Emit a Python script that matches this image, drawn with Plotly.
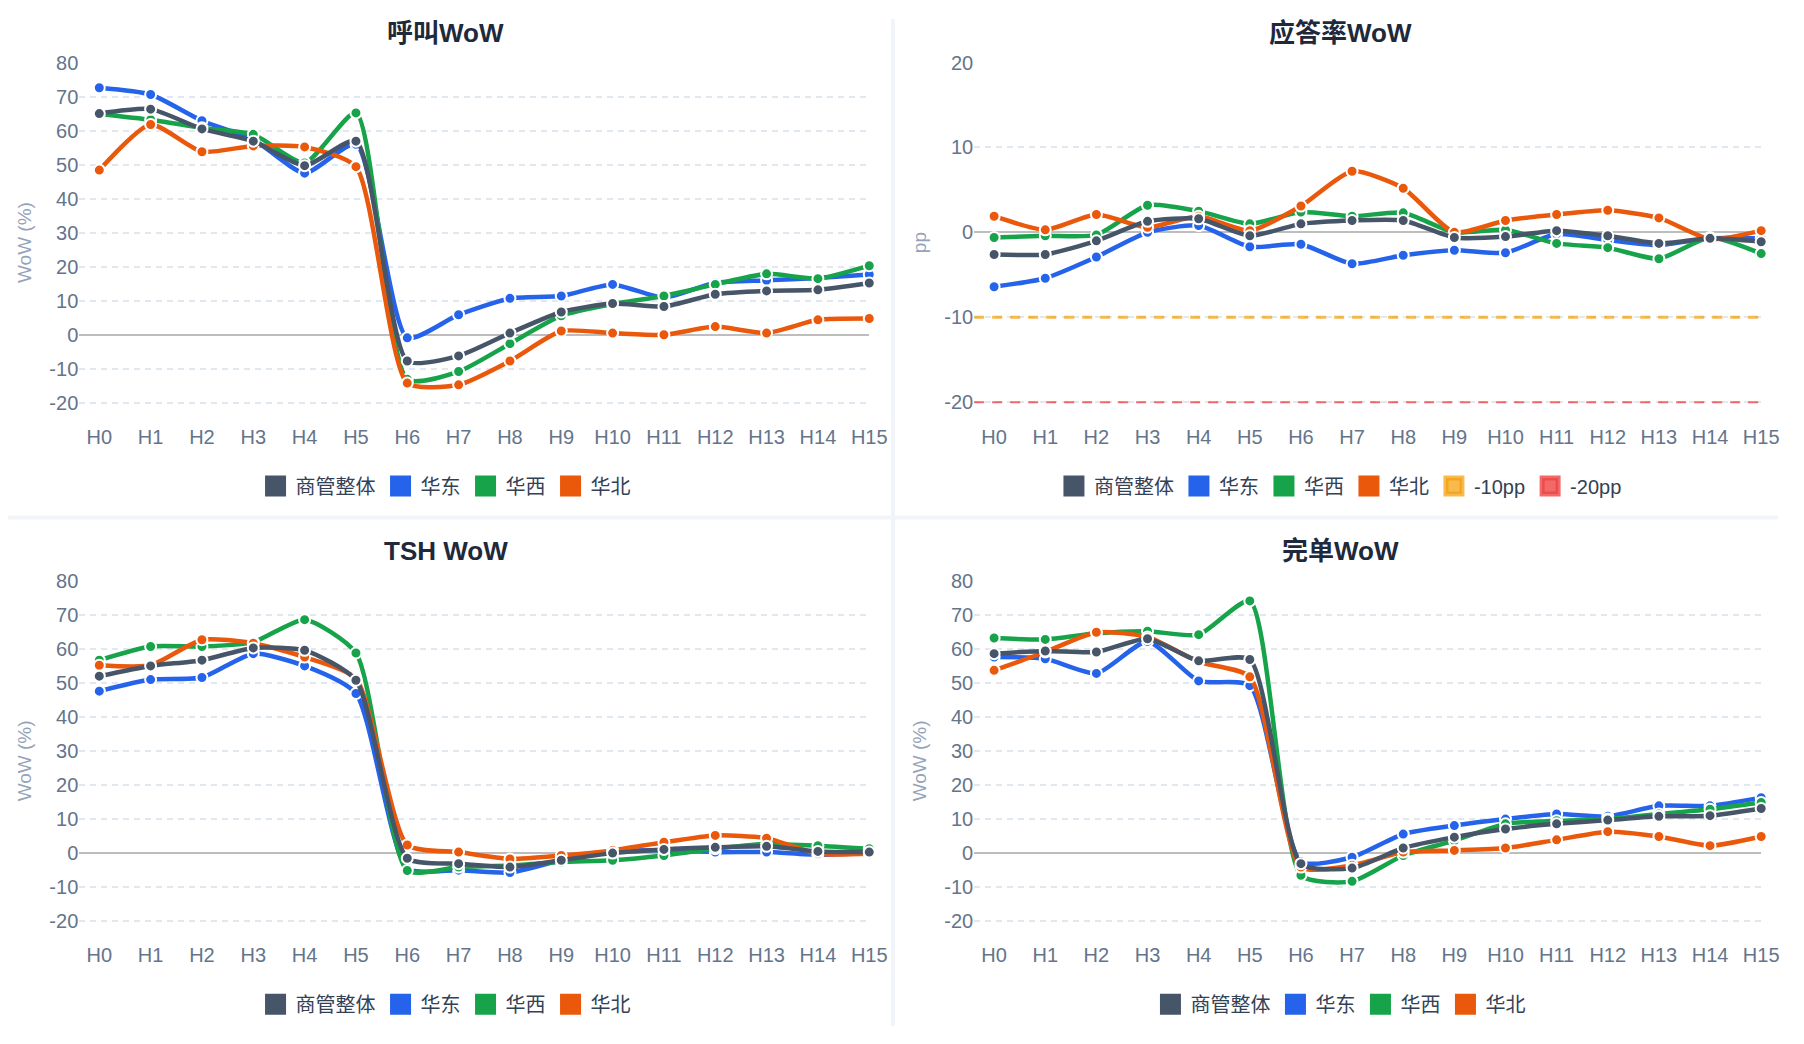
import plotly.graph_objects as go

# ---------------- data ----------------
hours = ["H0", "H1", "H2", "H3", "H4", "H5", "H6", "H7",
         "H8", "H9", "H10", "H11", "H12", "H13", "H14", "H15"]
series_names = ["商管整体", "华东", "华西", "华北"]
series_colors = ["#475569", "#2563eb", "#16a34a", "#ea580c"]

# 呼叫WoW (%)
call_total = [65.0, 66.3, 60.5, 56.9, 49.7, 56.9, -7.7, -6.2, 0.5, 6.7, 9.2, 8.3, 11.9, 12.9, 13.2, 15.2]
call_east = [72.6, 70.6, 62.9, 57.4, 47.5, 56.0, -0.9, 5.9, 10.7, 11.4, 14.8, 10.9, 15.3, 16.0, 16.7, 17.7]
call_west = [64.9, 63.2, 60.8, 58.9, 50.5, 65.2, -13.1, -10.8, -2.6, 5.6, 9.0, 11.4, 14.8, 17.9, 16.5, 20.3]
call_north = [48.4, 61.8, 53.8, 55.5, 55.2, 49.4, -14.2, -14.7, -7.7, 1.1, 0.5, 0.0, 2.4, 0.5, 4.4, 4.8]

# 应答率WoW (pp)
ans_total = [-2.6, -2.6, -1.0, 1.3, 1.6, -0.4, 1.0, 1.4, 1.4, -0.6, -0.5, 0.2, -0.4, -1.3, -0.7, -1.1]
ans_east = [-6.4, -5.4, -2.9, 0.0, 0.8, -1.7, -1.4, -3.7, -2.7, -2.1, -2.4, -0.2, -0.9, -1.5, -0.7, -0.7]
ans_west = [-0.6, -0.4, -0.3, 3.2, 2.5, 1.0, 2.4, 1.9, 2.3, 0.0, 0.3, -1.3, -1.8, -3.1, -0.6, -2.5]
ans_north = [1.9, 0.3, 2.1, 0.6, 1.9, 0.2, 3.1, 7.2, 5.2, 0.0, 1.4, 2.1, 2.6, 1.7, -0.8, 0.2]
ans_threshold_names = ["-10pp", "-20pp"]
ans_threshold_values = [-10, -20]
ans_threshold_colors = ["rgba(245,158,11,0.72)", "rgba(239,68,68,0.8)"]

# TSH WoW (%)
tsh_total = [52.0, 55.0, 56.7, 60.3, 59.6, 50.8, -1.5, -3.1, -4.1, -2.1, 0.0, 1.1, 1.7, 2.0, 0.5, 0.3]
tsh_east = [47.6, 51.0, 51.6, 58.6, 55.0, 46.9, -4.5, -5.0, -5.7, -2.1, 0.5, 0.8, 0.3, 0.3, -0.5, 0.0]
tsh_west = [56.7, 60.7, 60.7, 62.0, 68.6, 58.8, -5.1, -4.1, -3.6, -2.6, -2.1, -0.7, 1.3, 2.7, 2.2, 1.3]
tsh_north = [55.2, 55.2, 62.7, 61.7, 57.6, 51.3, 2.4, 0.3, -1.7, -0.7, 0.8, 3.2, 5.2, 4.4, -0.2, -0.2]

# 完单WoW (%)
done_total = [58.6, 59.4, 59.1, 63.0, 56.5, 56.9, -3.1, -4.4, 1.5, 4.7, 7.1, 8.6, 9.7, 10.8, 11.0, 13.1]
done_east = [57.6, 57.1, 52.8, 62.2, 50.6, 49.2, -2.5, -1.2, 5.6, 8.1, 10.0, 11.5, 10.8, 13.9, 13.9, 16.3]
done_west = [63.2, 62.8, 64.6, 65.2, 64.2, 74.1, -6.5, -8.3, -0.7, 3.7, 8.6, 9.5, 10.0, 11.5, 12.9, 14.9]
done_north = [53.7, 59.1, 64.9, 63.5, 56.2, 51.8, -4.1, -3.6, 0.3, 0.8, 1.5, 3.9, 6.3, 4.9, 2.2, 4.9]

pct_tickvals = [-20, -10, 0, 10, 20, 30, 40, 50, 60, 70, 80]
pct_ticktext = ["-20", "-10", "0", "10", "20", "30", "40", "50", "60", "70", "80"]
pp_tickvals = [-20, -10, 0, 10, 20]
pp_ticktext = ["-20", "-10", "0", "10", "20"]

panel_titles = ["呼叫WoW", "应答率WoW", "TSH WoW", "完单WoW"]
panel_ytitles = ["WoW (%)", "pp", "WoW (%)", "WoW (%)"]
panel_data = [
    [call_total, call_east, call_west, call_north],
    [ans_total, ans_east, ans_west, ans_north],
    [tsh_total, tsh_east, tsh_west, tsh_north],
    [done_total, done_east, done_west, done_north],
]
panel_ticks = [
    (pct_tickvals, pct_ticktext),
    (pp_tickvals, pp_ticktext),
    (pct_tickvals, pct_ticktext),
    (pct_tickvals, pct_ticktext),
]

# ---------------- layout geometry ----------------
PAGE_W, PAGE_H = 1804, 1044
OFF_X, OFF_Y = 8, 18          # where the plot div starts on the page
W, H = PAGE_W - 2 * OFF_X, PAGE_H - OFF_Y - 8
FONT = "Liberation Sans, Arial, Noto Sans CJK SC, sans-serif"

def px_x(v):
    return (v - OFF_X) / W

def px_y(v):
    return 1 - (v - OFF_Y) / H

# (plot left, plot right, plot top, plot bottom, card centre x, card top) in page px
panels = [
    (80, 878, 62, 426, 450, 0),
    (984, 1779, 62, 426, 1354, 0),
    (80, 878, 586, 950, 450, 524),
    (984, 1779, 586, 950, 1354, 524),
]
y_ranges = [[-25.8, 80], [-22.4, 20], [-25.8, 80], [-25.8, 80]]

fig = go.Figure()

draw_order = [1, 2, 3, 0]  # overall series drawn on top
for p in range(4):
    suffix = "" if p == 0 else str(p + 1)
    xa = "x" + suffix
    ya = "y" + suffix
    leg = "legend" + suffix
    for i in range(4):
        fig.add_trace(go.Scatter(
            x=[None], y=[None], mode="markers", name=series_names[i],
            marker=dict(symbol="square", size=16, color=series_colors[i],
                        line=dict(color=series_colors[i], width=5)),
            xaxis=xa, yaxis=ya, legend=leg, showlegend=True, hoverinfo="skip",
        ))
    if p == 1:
        for k in range(len(ans_threshold_names)):
            fig.add_trace(go.Scatter(
                x=[None], y=[None], mode="markers", name=ans_threshold_names[k],
                marker=dict(symbol="square", size=16, color=ans_threshold_colors[k],
                            line=dict(color=ans_threshold_colors[k], width=5)),
                xaxis=xa, yaxis=ya, legend=leg, showlegend=True, hoverinfo="skip",
            ))
    for i in draw_order:
        fig.add_trace(go.Scatter(
            x=hours, y=panel_data[p][i], mode="lines+markers", name=series_names[i],
            line=dict(color=series_colors[i], width=4.5, shape="spline", smoothing=0.6),
            marker=dict(size=11, color=series_colors[i], line=dict(color="white", width=2)),
            xaxis=xa, yaxis=ya, showlegend=False, cliponaxis=False,
        ))

layout = dict(
    width=W, height=H,
    margin=dict(l=0, r=0, t=0, b=0),
    paper_bgcolor="white", plot_bgcolor="white",
    font=dict(family=FONT, color="#64748b", size=20),
    showlegend=True,
    annotations=[],
    shapes=[
        dict(type="rect", xref="paper", yref="paper", x0=px_x(900), x1=px_x(904), y0=0, y1=1,
             fillcolor="#f1f5f9", line=dict(width=0), layer="below"),
        dict(type="rect", xref="paper", yref="paper", x0=0, x1=1, y0=px_y(524), y1=px_y(520),
             fillcolor="#f1f5f9", line=dict(width=0), layer="below"),
    ],
)

for p, (l, r, t, b, cx, top) in enumerate(panels):
    suffix = "" if p == 0 else str(p + 1)
    layout["xaxis" + suffix] = dict(
        domain=[px_x(l), px_x(r)], anchor="y" + suffix, type="category",
        range=[-0.39, 15], showgrid=False, zeroline=False, showline=False, ticks="",
        tickfont=dict(size=20, color="#64748b", family=FONT), fixedrange=True,
    )
    layout["yaxis" + suffix] = dict(
        domain=[px_y(b), px_y(t)], anchor="x" + suffix, range=y_ranges[p],
        tickmode="array", tickvals=panel_ticks[p][0], ticktext=panel_ticks[p][1],
        showgrid=True, gridcolor="#e2e8f0", gridwidth=1.5,
        griddash="6px,5px", zeroline=True, zerolinecolor="#bdbdbd", zerolinewidth=2,
        showline=False, ticks="", tickfont=dict(size=20, color="#64748b", family=FONT),
        title=dict(text=panel_ytitles[p], font=dict(size=19, color="#94a3b8", family=FONT), standoff=12),
        fixedrange=True,
    )
    layout["legend" + suffix] = dict(
        orientation="h", x=px_x(cx), xanchor="center", y=px_y(top + 490), yanchor="middle",
        font=dict(size=20, color="#334155", family=FONT), bgcolor="rgba(0,0,0,0)",
        itemclick=False, itemdoubleclick=False,
    )
    layout["annotations"].append(dict(
        text="<b>" + panel_titles[p] + "</b>", x=px_x(cx), y=px_y(top + 32),
        xref="paper", yref="paper", xanchor="center", yanchor="middle", showarrow=False,
        font=dict(size=26, color="#1e293b", family=FONT),
    ))

for k in range(len(ans_threshold_values)):
    layout["shapes"].append(dict(
        type="line", xref="x2 domain", yref="y2", x0=0, x1=1,
        y0=ans_threshold_values[k], y1=ans_threshold_values[k],
        line=dict(color=ans_threshold_colors[k], width=3 if k == 0 else 2, dash="10px,8px"),
        layer="above",
    ))

fig.update_layout(**layout)
fig.write_html("out.html")
